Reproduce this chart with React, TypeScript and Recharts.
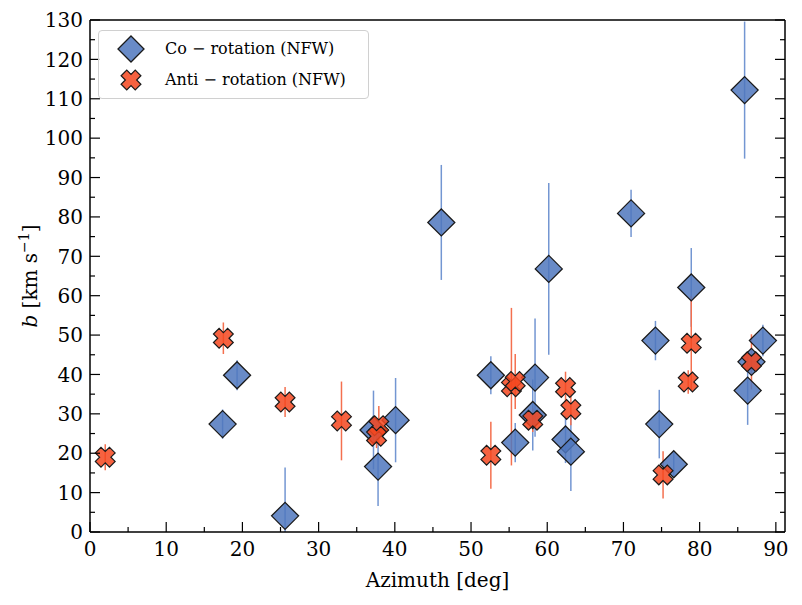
import { ScatterChart, Scatter, XAxis, YAxis, ErrorBar } from 'recharts'

// Co-rotation (NFW) fits
const coAzimuth = [17.4, 19.3, 25.6, 37.2, 37.8, 40.1, 46.1, 52.6, 55.8, 58.4, 58.1, 60.2, 62.4, 63.1, 71.0, 74.2, 74.7, 76.6, 78.9, 85.9, 86.3, 86.8, 88.3]
const coB = [27.4, 39.8, 4.1, 25.9, 16.6, 28.4, 78.6, 39.8, 22.7, 39.2, 29.7, 66.8, 23.5, 20.4, 80.9, 48.6, 27.4, 17.2, 62.1, 112.2, 35.9, 43.2, 48.6]
const coErrLow = [3.7, 3.8, 4.1, 10, 10, 10.7, 14.6, 4.8, 5, 15, 9, 21.8, 6, 10, 6, 5, 8.7, 3, 10, 17.4, 8.7, 3, 4]
const coErrHigh = [3.7, 3.8, 12.3, 10, 10, 10.7, 14.6, 4.8, 5, 15, 9, 21.8, 6, 10, 6, 5, 8.7, 3, 10, 17.4, 8.7, 3, 4]

// Anti-rotation (NFW) fits
const antiAzimuth = [2.0, 17.5, 25.6, 33.0, 37.9, 37.6, 52.6, 55.3, 55.8, 58.1, 62.4, 63.1, 75.2, 78.5, 78.9, 86.8]
const antiB = [19.0, 49.2, 33.0, 28.2, 27.0, 24.3, 19.5, 36.9, 38.2, 28.4, 36.7, 31.1, 14.5, 38.1, 47.9, 43.2]
const antiErr = [3.3, 4.0, 3.8, 10, 5, 3, 8.5, 20, 7, 3, 4, 4, 6, 3, 12, 7]

const xTicks = Array.from({ length: 19 }, (_, i) => i * 5)
const yTicks = Array.from({ length: 27 }, (_, i) => i * 5)

const coData = coAzimuth.map((x, i) => ({ x, y: coB[i], err: [coErrLow[i], coErrHigh[i]] }))
const antiData = antiAzimuth.map((x, i) => ({ x, y: antiB[i], err: antiErr[i] }))

const FONT = 'DejaVu Serif'
const BLUE = '#4f77bd'
const RED = '#f5461f'
const EDGE = '#1a1a1a'

const diamondPoints = (cx: number, cy: number, r: number) =>
  `${cx},${cy - r} ${cx + r},${cy} ${cx},${cy + r} ${cx - r},${cy}`

// filled "X" marker: a plus rotated 45 degrees
const crossPoints = (cx: number, cy: number, L: number, w: number) => {
  const base = [
    [w, w], [w, L], [-w, L], [-w, w], [-L, w], [-L, -w],
    [-w, -w], [-w, -L], [w, -L], [w, -w], [L, -w], [L, w],
  ]
  const c = Math.SQRT1_2
  return base.map(([px, py]) => `${cx + (px - py) * c},${cy + (px + py) * c}`).join(' ')
}

const Diamond = (props: any) => (
  <polygon points={diamondPoints(props.cx, props.cy, 13.5)} fill={BLUE} fillOpacity={0.85} stroke={EDGE} strokeWidth={1.3} />
)

const Cross = (props: any) => (
  <polygon points={crossPoints(props.cx, props.cy, 10, 4)} fill={RED} fillOpacity={0.85} stroke={EDGE} strokeWidth={1.2} />
)

const makeXTick = (pos: 'top' | 'bottom') => (props: any) => {
  const { x, y, payload } = props
  const v = payload.value
  const major = v % 10 === 0
  const dir = pos === 'bottom' ? -1 : 1
  return (
    <g>
      <line x1={x} y1={y} x2={x} y2={y + dir * (major ? 10 : 5)} stroke="#000" strokeWidth={1.2} />
      {pos === 'bottom' && major && (
        <text x={x} y={y + 24} textAnchor="middle" fontFamily={FONT} fontSize={20} fill="#000">{v}</text>
      )}
    </g>
  )
}

const makeYTick = (pos: 'left' | 'right') => (props: any) => {
  const { x, y, payload } = props
  const v = payload.value
  const major = v % 10 === 0
  const dir = pos === 'left' ? 1 : -1
  return (
    <g>
      <line x1={x} y1={y} x2={x + dir * (major ? 10 : 5)} y2={y} stroke="#000" strokeWidth={1.2} />
      {pos === 'left' && major && (
        <text x={x - 7} y={y} dy="0.36em" textAnchor="end" fontFamily={FONT} fontSize={20} fill="#000">{v}</text>
      )}
    </g>
  )
}

const XLabel = (props: any) => {
  const { x, y, width } = props.viewBox
  return (
    <text x={x + width / 2} y={y + 55} textAnchor="middle" fontFamily={FONT} fontSize={20} fill="#000">Azimuth [deg]</text>
  )
}

const YLabel = (props: any) => {
  const { y, height } = props.viewBox
  const cx = 29
  const cy = y + height / 2
  return (
    <text x={cx} y={cy} transform={`rotate(-90 ${cx} ${cy})`} textAnchor="middle" fontFamily={FONT} fontSize={20} fill="#000">
      <tspan fontStyle="italic">b</tspan> [km s<tspan dy={-8} fontSize={14}>−1</tspan><tspan dy={8}>]</tspan>
    </text>
  )
}

const axisLine = { stroke: '#000', strokeWidth: 1.5 }

export default function App() {
  return (
    <div style={{ position: 'relative', width: 794, height: 589 }}>
      <ScatterChart width={794} height={589} margin={{ top: 0, right: 0, bottom: 0, left: 0 }}>
        <XAxis xAxisId="b" type="number" dataKey="x" orientation="bottom" domain={[0, 91.2]} allowDataOverflow
          ticks={xTicks} interval={0} tickSize={0} tickMargin={0} tickLine={false} axisLine={axisLine}
          tick={makeXTick('bottom')} height={65} label={<XLabel />} />
        <XAxis xAxisId="t" type="number" orientation="top" domain={[0, 91.2]} allowDataOverflow
          ticks={xTicks} interval={0} tickSize={0} tickMargin={0} tickLine={false} axisLine={axisLine}
          tick={makeXTick('top')} height={12} />
        <YAxis yAxisId="l" type="number" dataKey="y" orientation="left" domain={[0, 130]} allowDataOverflow
          ticks={yTicks} interval={0} tickSize={0} tickMargin={0} tickLine={false} axisLine={axisLine}
          tick={makeYTick('left')} width={82} label={<YLabel />} />
        <YAxis yAxisId="r" type="number" orientation="right" domain={[0, 130]} allowDataOverflow
          ticks={yTicks} interval={0} tickSize={0} tickMargin={0} tickLine={false} axisLine={axisLine}
          tick={makeYTick('right')} width={17} />
        <Scatter name="Co − rotation (NFW)" data={coData} xAxisId="b" yAxisId="l" shape={Diamond} isAnimationActive={false}>
          <ErrorBar dataKey="err" direction="y" width={0} stroke="#7396d2" strokeWidth={1.5} />
        </Scatter>
        <Scatter name="Anti − rotation (NFW)" data={antiData} xAxisId="b" yAxisId="l" shape={Cross} isAnimationActive={false}>
          <ErrorBar dataKey="err" direction="y" width={0} stroke="#f4704f" strokeWidth={1.5} />
        </Scatter>
      </ScatterChart>
      <div style={{
        position: 'absolute', left: 90, top: 22, width: 271, height: 69,
        border: '1px solid #d0d0d0', borderRadius: 4, background: 'rgba(255,255,255,0.8)',
        fontFamily: FONT, fontSize: 16, color: '#000', boxSizing: 'border-box',
      }}>
        <svg width={40} height={69} style={{ position: 'absolute', left: 16, top: 0 }}>
          <polygon points={diamondPoints(16, 18, 13)} fill={BLUE} fillOpacity={0.85} stroke={EDGE} strokeWidth={1.3} />
          <polygon points={crossPoints(16, 49, 10, 4)} fill={RED} fillOpacity={0.85} stroke={EDGE} strokeWidth={1.2} />
        </svg>
        <div style={{ position: 'absolute', left: 66, top: 6, whiteSpace: 'nowrap', lineHeight: '24px' }}>Co − rotation (NFW)</div>
        <div style={{ position: 'absolute', left: 66, top: 37, whiteSpace: 'nowrap', lineHeight: '24px' }}>Anti − rotation (NFW)</div>
      </div>
    </div>
  )
}
